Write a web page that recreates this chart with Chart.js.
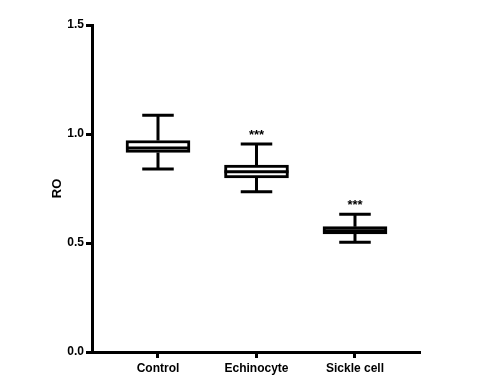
<!DOCTYPE html>
<html>
<head>
<meta charset="utf-8">
<script src="https://cdn.jsdelivr.net/npm/chart.js@4.4.1/dist/chart.umd.min.js"></script>
<style>
  html, body { margin: 0; padding: 0; background: #fff; }
  #wrap { width: 488px; height: 385px; }
</style>
</head>
<body>
<div id="wrap"><canvas id="boxChart"></canvas></div>
<script>
// box plot values
const categories = ["Control", "Echinocyte", "Sickle cell"];
const whiskerMin = [0.839, 0.735, 0.503];
const quartile1 = [0.915, 0.798, 0.542];
const medians = [0.936, 0.827, 0.556];
const quartile3 = [0.970, 0.858, 0.575];
const whiskerMax = [1.086, 0.954, 0.632];
const significance = ["", "***", "***"];
const yTicks = [0, 0.5, 1.0, 1.5];

const FONT = "'Liberation Sans', Arial, sans-serif";
const BOX_HALF = 0.325;
const CAP_HALF = 0.16;

function segments(pairs) {
  const pts = [];
  pairs.forEach(p => {
    pts.push({ x: p[0], y: p[1] }, { x: p[2], y: p[3] }, { x: p[0], y: null });
  });
  return pts;
}

const boxData = categories.map((c, i) => ({ x: i, y: [quartile1[i], quartile3[i]] }));
const upperWhiskers = segments(categories.map((c, i) => [i, quartile3[i], i, whiskerMax[i]]));
const lowerWhiskers = segments(categories.map((c, i) => [i, whiskerMin[i], i, quartile1[i]]));
const caps = segments(categories.flatMap((c, i) => [
  [i - CAP_HALF, whiskerMax[i], i + CAP_HALF, whiskerMax[i]],
  [i - CAP_HALF, whiskerMin[i], i + CAP_HALF, whiskerMin[i]]
]));
const medianLines = segments(categories.map((c, i) => [i - BOX_HALF, medians[i], i + BOX_HALF, medians[i]]));

const lineStyle = {
  type: "line",
  borderColor: "#000",
  borderWidth: 3,
  pointRadius: 0,
  tension: 0,
  spanGaps: false,
  borderCapStyle: "butt"
};

const starsPlugin = {
  id: "stars",
  afterDatasetsDraw(chart) {
    const { ctx, scales } = chart;
    ctx.save();
    ctx.fillStyle = "#000";
    ctx.font = "bold 13px " + FONT;
    ctx.textAlign = "center";
    ctx.textBaseline = "middle";
    significance.forEach((s, i) => {
      if (!s) return;
      const x = scales.x.getPixelForValue(i);
      const y = scales.y.getPixelForValue(whiskerMax[i]) - 9;
      ctx.fillText(s, x, y);
    });
    ctx.restore();
  }
};

new Chart(document.getElementById("boxChart"), {
  data: {
    datasets: [
      { ...lineStyle, data: medianLines, order: 0 },
      { ...lineStyle, data: caps, order: 1 },
      { ...lineStyle, data: upperWhiskers, order: 1 },
      { ...lineStyle, data: lowerWhiskers, order: 1 },
      {
        type: "bar",
        data: boxData,
        backgroundColor: "#fff",
        borderColor: "#000",
        borderWidth: 3,
        borderSkipped: false,
        barThickness: 64,
        order: 2
      }
    ]
  },
  options: {
    responsive: true,
    maintainAspectRatio: false,
    animation: false,
    layout: { padding: { top: 25, right: 68, left: 0, bottom: 0 } },
    plugins: {
      legend: { display: false },
      tooltip: { enabled: false }
    },
    scales: {
      x: {
        type: "linear",
        min: -0.67,
        max: 2.66,
        offset: false,
        afterBuildTicks: scale => {
          scale.ticks = categories.map((c, i) => ({ value: i }));
        },
        afterFit: scale => { scale.height = 33; },
        ticks: {
          color: "#000",
          font: { family: FONT, size: 12, weight: "bold" },
          padding: 3,
          maxRotation: 0,
          autoSkip: false,
          callback: value => categories[value]
        },
        grid: {
          offset: false,
          drawOnChartArea: false,
          drawTicks: true,
          tickLength: 6,
          tickWidth: 3,
          color: "#000"
        },
        border: { display: true, width: 3, color: "#000" }
      },
      y: {
        min: 0,
        max: 1.5,
        afterBuildTicks: scale => {
          scale.ticks = yTicks.map(v => ({ value: v }));
        },
        afterFit: scale => { scale.width = 92; },
        ticks: {
          color: "#000",
          font: { family: FONT, size: 12, weight: "bold" },
          padding: 2,
          callback: value => Number(value).toFixed(1)
        },
        grid: {
          drawOnChartArea: false,
          drawTicks: true,
          tickLength: 6,
          tickWidth: 3,
          color: "#000"
        },
        border: { display: true, width: 3, color: "#000" },
        title: {
          display: true,
          text: "RO",
          color: "#000",
          font: { family: FONT, size: 13, weight: "bold" },
          padding: { top: 50, bottom: 0 }
        }
      }
    }
  },
  plugins: [starsPlugin]
});
</script>
</body>
</html>
